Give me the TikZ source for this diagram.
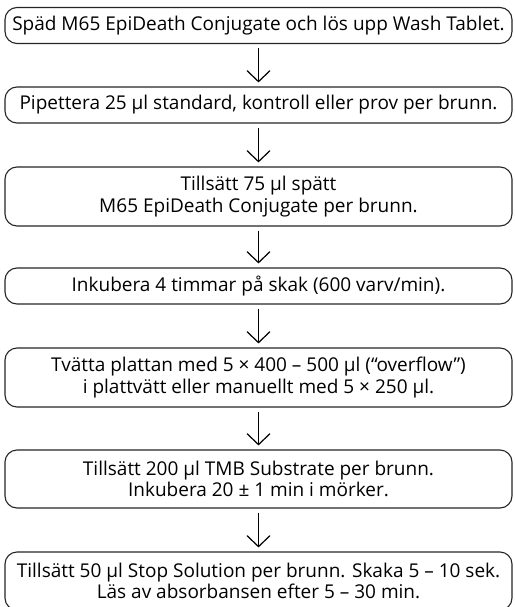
\documentclass[tikz,border=0pt]{standalone}
\usepackage{fontspec}
\setmainfont{Open Sans}
\usetikzlibrary{arrows.meta}
\begin{document}
\begin{tikzpicture}[x=1pt,y=-1pt,
  stepbox/.style={draw=black!85,line width=1.1pt,rounded corners=12pt,
    minimum width=507pt,align=center,inner sep=0pt,
    font=\fontsize{19pt}{21.5pt}\selectfont},
  onebox/.style={stepbox,minimum height=36pt},
  twobox/.style={stepbox,minimum height=59pt},
  flow/.style={line width=1.2pt,-{Straight Barb[length=11pt,width=23pt,line width=1.2pt]},
    shorten <=4pt,shorten >=4pt}]
\clip (0,0) rectangle (514,607);
\fill[white] (0,0) rectangle (514,607);
\node[onebox] (b1) at (258.5,25.5) {Späd M65 EpiDeath Conjugate och lös upp Wash Tablet.};
\node[onebox] (b2) at (258.5,105) {Pipettera 25 µl standard, kontroll eller prov per brunn.};
\node[twobox] (b3) at (258.5,196.5) {Tillsätt 75 µl spätt\\M65 EpiDeath Conjugate per brunn.};
\node[onebox] (b4) at (258.5,286) {Inkubera 4 timmar på skak (600 varv/min).};
\node[twobox] (b5) at (258.5,377.5) {Tvätta plattan med 5 × 400 – 500 µl (“overflow”)\\i plattvätt eller manuellt med 5 × 250 µl.};
\node[twobox,minimum height=58pt] (b6) at (258.5,479) {Tillsätt 200 µl TMB Substrate per brunn.\\Inkubera 20 ± 1 min i mörker.};
\node[twobox,minimum height=58pt] (b7) at (258.5,581) {Tillsätt 50 µl Stop Solution per brunn. Skaka 5 – 10 sek.\\Läs av absorbansen efter 5 – 30 min.};
\foreach \a/\b in {b1/b2,b2/b3,b3/b4,b4/b5,b5/b6,b6/b7}
  \draw[flow] (\a.south) -- (\b.north);
\end{tikzpicture}
\end{document}
